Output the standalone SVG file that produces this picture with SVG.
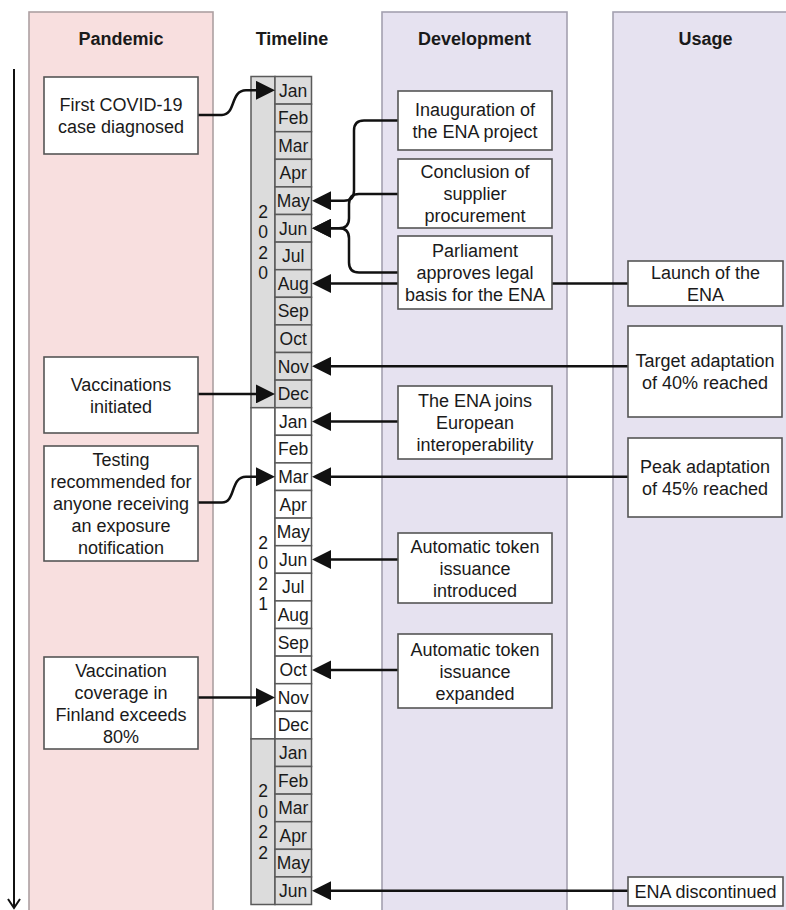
<svg xmlns="http://www.w3.org/2000/svg" width="786" height="910" viewBox="0 0 786 910">
  <style>
    text { font-family: "Liberation Sans", Arial, sans-serif; fill: #1a1a1a; }
    .hdr { font-size: 18px; font-weight: bold; text-anchor: middle; }
    .lbl { font-size: 18px; text-anchor: middle; }
    .mon { font-size: 17.5px; text-anchor: middle; }
    .yr { font-size: 17.5px; text-anchor: middle; }
    .lane-p { fill: #f8dfdf; stroke: #ada0a2; stroke-width: 1.6; }
    .lane-d { fill: #e6e2f0; stroke: #a4a1b0; stroke-width: 1.6; }
    .box { fill: #ffffff; stroke: #555555; stroke-width: 1.6; }
    .cell-g { fill: #dcdcdc; stroke: #5a5a5a; stroke-width: 1.5; }
    .cell-w { fill: #ffffff; stroke: #5a5a5a; stroke-width: 1.5; }
    .edge { fill: none; stroke: #111111; stroke-width: 2.5; marker-end: url(#ah); }
  </style>
  <defs>
    <marker id="ah" viewBox="0 0 19 19" refX="9" refY="9.5" markerWidth="19" markerHeight="19" markerUnits="userSpaceOnUse" orient="auto">
      <path d="M0,0 L19,9.5 L0,19 z" fill="#111111"/>
    </marker>
  </defs>

  <!-- swimlanes -->
  <g id="lanes">
    <rect class="lane-p" x="29" y="12" width="184" height="910"/>
    <rect class="lane-d" x="382" y="12" width="185" height="910"/>
    <rect class="lane-d" x="613" y="12" width="190" height="910"/>
    <text class="hdr" x="121" y="45">Pandemic</text>
    <text class="hdr" x="292" y="45">Timeline</text>
    <text class="hdr" x="474.5" y="45">Development</text>
    <text class="hdr" x="705.5" y="45">Usage</text>
  </g>

  <!-- time axis -->
  <g id="time-axis" fill="none" stroke="#111111" stroke-width="2">
    <line x1="14" y1="69" x2="14" y2="908"/>
    <polyline points="8,899 14,908 20,899"/>
  </g>

  <!-- timeline: year columns and month cells -->
  <g id="timeline">
    <rect class="cell-g" x="251" y="76.5" width="24" height="331.2"/>
    <rect class="cell-w" x="251" y="407.7" width="24" height="331.2"/>
    <rect class="cell-g" x="251" y="738.9" width="24" height="165.6"/>
    <text class="yr" x="263"><tspan x="263" y="217.5">2</tspan><tspan x="263" y="238">0</tspan><tspan x="263" y="258.5">2</tspan><tspan x="263" y="279">0</tspan></text>
    <text class="yr" x="263"><tspan x="263" y="548.7">2</tspan><tspan x="263" y="569.2">0</tspan><tspan x="263" y="589.7">2</tspan><tspan x="263" y="610.2">1</tspan></text>
    <text class="yr" x="263"><tspan x="263" y="797.1">2</tspan><tspan x="263" y="817.6">0</tspan><tspan x="263" y="838.1">2</tspan><tspan x="263" y="858.6">2</tspan></text>

    <g id="y2020">
      <rect class="cell-g" x="275" y="76.5" width="36.5" height="27.6"/><text class="mon" x="293.2" y="96.6">Jan</text>
      <rect class="cell-g" x="275" y="104.1" width="36.5" height="27.6"/><text class="mon" x="293.2" y="124.2">Feb</text>
      <rect class="cell-g" x="275" y="131.7" width="36.5" height="27.6"/><text class="mon" x="293.2" y="151.8">Mar</text>
      <rect class="cell-g" x="275" y="159.3" width="36.5" height="27.6"/><text class="mon" x="293.2" y="179.4">Apr</text>
      <rect class="cell-g" x="275" y="186.9" width="36.5" height="27.6"/><text class="mon" x="293.2" y="207">May</text>
      <rect class="cell-g" x="275" y="214.5" width="36.5" height="27.6"/><text class="mon" x="293.2" y="234.6">Jun</text>
      <rect class="cell-g" x="275" y="242.1" width="36.5" height="27.6"/><text class="mon" x="293.2" y="262.2">Jul</text>
      <rect class="cell-g" x="275" y="269.7" width="36.5" height="27.6"/><text class="mon" x="293.2" y="289.8">Aug</text>
      <rect class="cell-g" x="275" y="297.3" width="36.5" height="27.6"/><text class="mon" x="293.2" y="317.4">Sep</text>
      <rect class="cell-g" x="275" y="324.9" width="36.5" height="27.6"/><text class="mon" x="293.2" y="345">Oct</text>
      <rect class="cell-g" x="275" y="352.5" width="36.5" height="27.6"/><text class="mon" x="293.2" y="372.6">Nov</text>
      <rect class="cell-g" x="275" y="380.1" width="36.5" height="27.6"/><text class="mon" x="293.2" y="400.2">Dec</text>
    </g>
    <g id="y2021">
      <rect class="cell-w" x="275" y="407.7" width="36.5" height="27.6"/><text class="mon" x="293.2" y="427.8">Jan</text>
      <rect class="cell-w" x="275" y="435.3" width="36.5" height="27.6"/><text class="mon" x="293.2" y="455.4">Feb</text>
      <rect class="cell-w" x="275" y="462.9" width="36.5" height="27.6"/><text class="mon" x="293.2" y="483">Mar</text>
      <rect class="cell-w" x="275" y="490.5" width="36.5" height="27.6"/><text class="mon" x="293.2" y="510.6">Apr</text>
      <rect class="cell-w" x="275" y="518.1" width="36.5" height="27.6"/><text class="mon" x="293.2" y="538.2">May</text>
      <rect class="cell-w" x="275" y="545.7" width="36.5" height="27.6"/><text class="mon" x="293.2" y="565.8">Jun</text>
      <rect class="cell-w" x="275" y="573.3" width="36.5" height="27.6"/><text class="mon" x="293.2" y="593.4">Jul</text>
      <rect class="cell-w" x="275" y="600.9" width="36.5" height="27.6"/><text class="mon" x="293.2" y="621">Aug</text>
      <rect class="cell-w" x="275" y="628.5" width="36.5" height="27.6"/><text class="mon" x="293.2" y="648.6">Sep</text>
      <rect class="cell-w" x="275" y="656.1" width="36.5" height="27.6"/><text class="mon" x="293.2" y="676.2">Oct</text>
      <rect class="cell-w" x="275" y="683.7" width="36.5" height="27.6"/><text class="mon" x="293.2" y="703.8">Nov</text>
      <rect class="cell-w" x="275" y="711.3" width="36.5" height="27.6"/><text class="mon" x="293.2" y="731.4">Dec</text>
    </g>
    <g id="y2022">
      <rect class="cell-g" x="275" y="738.9" width="36.5" height="27.6"/><text class="mon" x="293.2" y="759">Jan</text>
      <rect class="cell-g" x="275" y="766.5" width="36.5" height="27.6"/><text class="mon" x="293.2" y="786.6">Feb</text>
      <rect class="cell-g" x="275" y="794.1" width="36.5" height="27.6"/><text class="mon" x="293.2" y="814.2">Mar</text>
      <rect class="cell-g" x="275" y="821.7" width="36.5" height="27.6"/><text class="mon" x="293.2" y="841.8">Apr</text>
      <rect class="cell-g" x="275" y="849.3" width="36.5" height="27.6"/><text class="mon" x="293.2" y="869.4">May</text>
      <rect class="cell-g" x="275" y="876.9" width="36.5" height="27.6"/><text class="mon" x="293.2" y="897">Jun</text>
    </g>
  </g>

  <!-- connectors (drawn under the event boxes) -->
  <g id="connectors">
    <path class="edge" d="M198,115 H222 C236,115 230,90.3 246,90.3 H265"/>
    <path class="edge" d="M198,393.9 H265"/>
    <path class="edge" d="M198,502.5 H222 C236,502.5 230,476.7 246,476.7 H265"/>
    <path class="edge" d="M198,697.5 H265"/>

    <path class="edge" d="M398,120.5 H364 Q354,120.5 354,130.5 V190.7 Q354,200.7 344,200.7 H322"/>
    <path class="edge" d="M398,194 H359 Q349,194 349,204 V218.3 Q349,228.3 339,228.3 H322"/>
    <path class="edge" d="M398,272.5 H359 Q349,272.5 349,262.5 V238.3 Q349,228.3 339,228.3 H322"/>
    <path class="edge" d="M628,283.5 H322"/>
    <path class="edge" d="M628,366.3 H322"/>
    <path class="edge" d="M398,421.5 H322"/>
    <path class="edge" d="M628,476.7 H322"/>
    <path class="edge" d="M398,559.5 H322"/>
    <path class="edge" d="M398,669.9 H322"/>
    <path class="edge" d="M628,890.7 H322"/>
  </g>

  <!-- pandemic events -->
  <g id="first-case">
    <rect class="box" x="44" y="77" width="154" height="77"/>
    <text class="lbl" x="121" y="111">First COVID-19</text>
    <text class="lbl" x="121" y="133">case diagnosed</text>
  </g>
  <g id="vaccinations-initiated">
    <rect class="box" x="44" y="357" width="154" height="76"/>
    <text class="lbl" x="121" y="390.5">Vaccinations</text>
    <text class="lbl" x="121" y="412.5">initiated</text>
  </g>
  <g id="testing-recommended">
    <rect class="box" x="44" y="446" width="154" height="115"/>
    <text class="lbl" x="121" y="466">Testing</text>
    <text class="lbl" x="121" y="488">recommended for</text>
    <text class="lbl" x="121" y="510">anyone receiving</text>
    <text class="lbl" x="121" y="532">an exposure</text>
    <text class="lbl" x="121" y="554">notification</text>
  </g>
  <g id="vaccination-coverage">
    <rect class="box" x="44" y="657" width="154" height="92"/>
    <text class="lbl" x="121" y="676.5">Vaccination</text>
    <text class="lbl" x="121" y="698.5">coverage in</text>
    <text class="lbl" x="121" y="720.5">Finland exceeds</text>
    <text class="lbl" x="121" y="742.5">80%</text>
  </g>

  <!-- development events -->
  <g id="inauguration">
    <rect class="box" x="398" y="91" width="154" height="59"/>
    <text class="lbl" x="475" y="116">Inauguration of</text>
    <text class="lbl" x="475" y="138">the ENA project</text>
  </g>
  <g id="procurement">
    <rect class="box" x="398" y="159" width="154" height="69"/>
    <text class="lbl" x="475" y="178">Conclusion of</text>
    <text class="lbl" x="475" y="200">supplier</text>
    <text class="lbl" x="475" y="222">procurement</text>
  </g>
  <g id="legal-basis">
    <rect class="box" x="398" y="236" width="154" height="73"/>
    <text class="lbl" x="475" y="257">Parliament</text>
    <text class="lbl" x="475" y="279">approves legal</text>
    <text class="lbl" x="475" y="301">basis for the ENA</text>
  </g>
  <g id="interoperability">
    <rect class="box" x="398" y="386" width="154" height="73"/>
    <text class="lbl" x="475" y="407">The ENA joins</text>
    <text class="lbl" x="475" y="429">European</text>
    <text class="lbl" x="475" y="451">interoperability</text>
  </g>
  <g id="token-introduced">
    <rect class="box" x="398" y="533" width="154" height="70"/>
    <text class="lbl" x="475" y="552.5">Automatic token</text>
    <text class="lbl" x="475" y="574.5">issuance</text>
    <text class="lbl" x="475" y="596.5">introduced</text>
  </g>
  <g id="token-expanded">
    <rect class="box" x="398" y="634" width="154" height="74"/>
    <text class="lbl" x="475" y="655.5">Automatic token</text>
    <text class="lbl" x="475" y="677.5">issuance</text>
    <text class="lbl" x="475" y="699.5">expanded</text>
  </g>

  <!-- usage events -->
  <g id="launch">
    <rect class="box" x="628" y="261" width="155" height="45"/>
    <text class="lbl" x="705.5" y="279">Launch of the</text>
    <text class="lbl" x="705.5" y="301">ENA</text>
  </g>
  <g id="adaptation-40">
    <rect class="box" x="628" y="326" width="154" height="91"/>
    <text class="lbl" x="705" y="367">Target adaptation</text>
    <text class="lbl" x="705" y="389">of 40% reached</text>
  </g>
  <g id="adaptation-45">
    <rect class="box" x="628" y="438" width="154" height="79"/>
    <text class="lbl" x="705" y="473">Peak adaptation</text>
    <text class="lbl" x="705" y="495">of 45% reached</text>
  </g>
  <g id="discontinued">
    <rect class="box" x="628" y="877" width="155" height="29"/>
    <text class="lbl" x="705.5" y="898">ENA discontinued</text>
  </g>
</svg>
